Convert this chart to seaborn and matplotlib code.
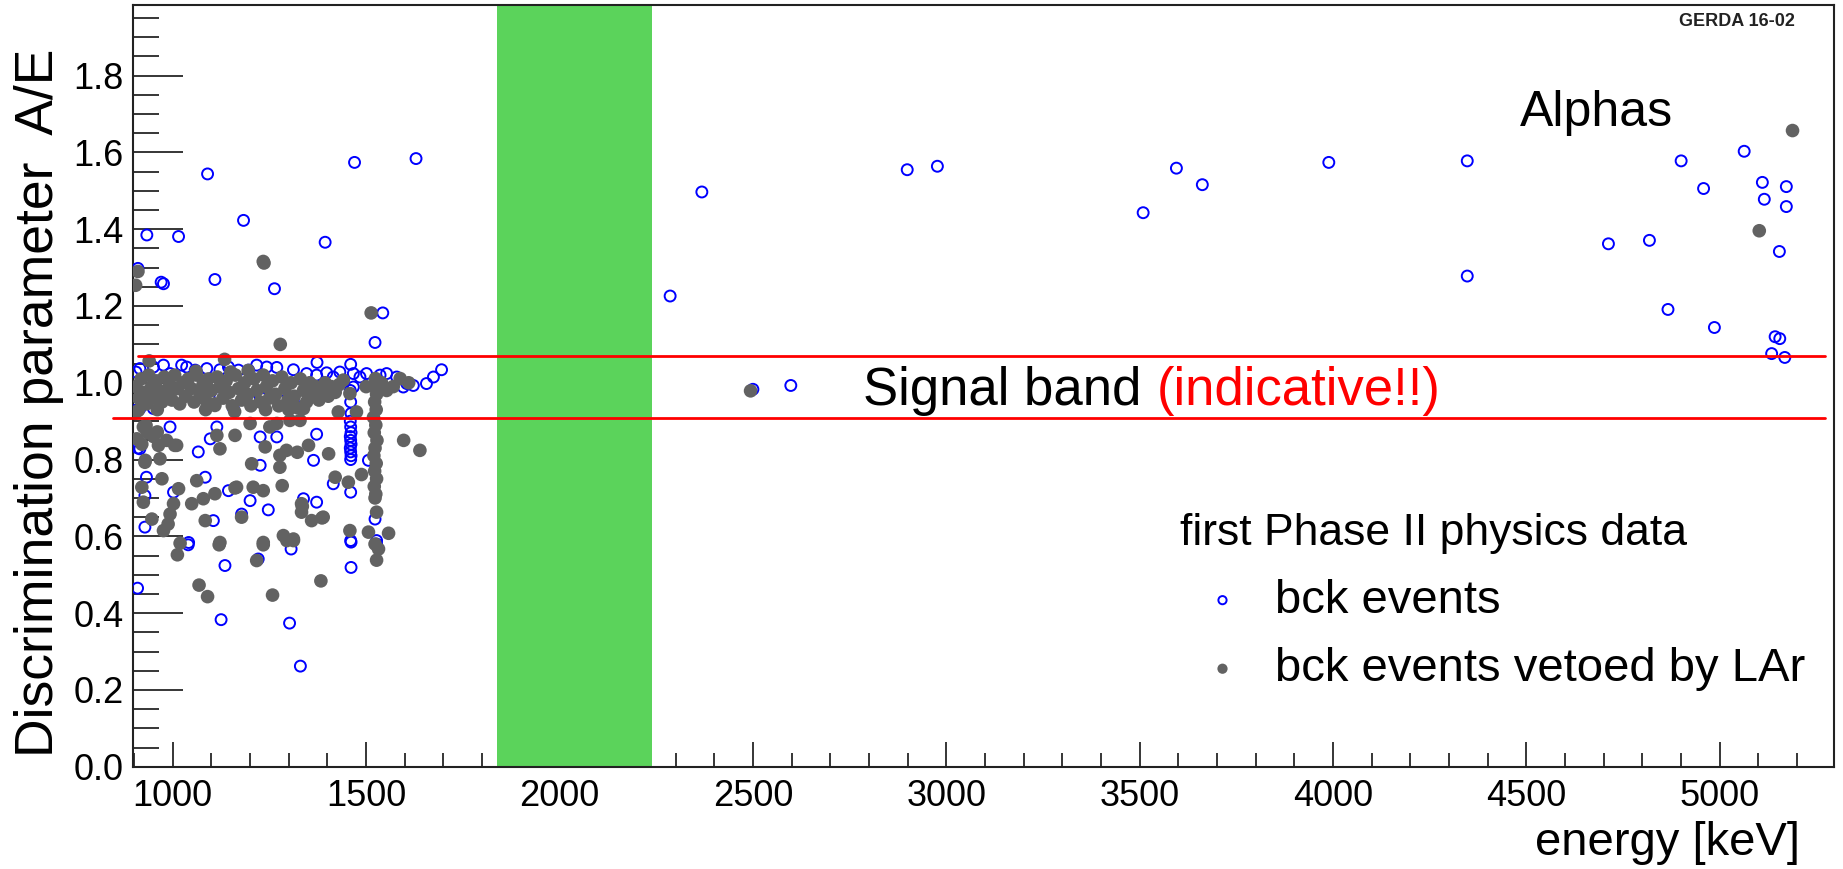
import matplotlib
matplotlib.use("Agg")
import matplotlib.pyplot as plt
from matplotlib.ticker import MultipleLocator
import seaborn as sns

# ---------------- data ----------------
# bck events (open blue circles): energy [keV], A/E
blue_energy = [
    1090, 1470, 1629, 933, 1015, 1183, 1394, 1109, 970, 976, 1263, 1543, 1523, 910, 1373, 1460, 1695,
    905, 915, 950, 976, 993, 1023, 1036, 1058, 1088, 1122, 1144, 1170, 1196, 1217, 1243, 1269, 1312,
    1346, 1372, 1398, 1415, 1432, 1467, 1484, 1501, 1536, 1553, 1579, 1605, 1622, 1656, 1674, 1596,
    907, 946, 1010, 1122, 1157, 1226, 1277, 1312, 915, 950, 1398, 1467,
    1459, 1460, 1461, 1459, 1460, 1461, 1459, 1460, 1461, 1459, 1460, 1461, 1460,
    993, 1097, 1114, 1066, 1226, 1269, 1226, 1364, 1372, 1084, 1002, 928, 932, 1144, 1200, 1247, 1178,
    1338, 1372, 1105, 928, 1041, 1415, 1460, 1460, 1506, 1523, 1527, 903, 915, 910,
    1040, 1135, 909, 1125, 1221, 1306, 1302, 1330, 1461, 1461, 1527,
    2286, 2368, 2899, 2977, 2500, 2598, 3509, 3595, 3662, 3989, 4347, 4347, 4712, 4818, 4900, 4958,
    4866, 4986, 5063, 5110, 5115, 5172, 5172, 5154, 5143, 5155, 5134, 5168,
]
blue_ae = [
    1.544, 1.574, 1.584, 1.385, 1.381, 1.423, 1.366, 1.269, 1.262, 1.258, 1.245, 1.182, 1.105, 1.298, 1.053, 1.048, 1.034,
    1.028, 1.037, 1.041, 1.046, 1.024, 1.046, 1.041, 1.033, 1.037, 1.034, 1.041, 1.033, 1.033, 1.046, 1.041, 1.040, 1.034,
    1.024, 1.020, 1.026, 1.015, 1.028, 1.024, 1.015, 1.024, 1.020, 1.024, 1.015, 0.998, 0.993, 0.998, 1.015, 0.989,
    0.972, 0.963, 0.959, 0.963, 0.933, 0.963, 0.954, 0.950, 0.933, 0.933, 0.989, 0.989,
    0.980, 0.950, 0.920, 0.900, 0.885, 0.870, 0.860, 0.850, 0.840, 0.830, 0.820, 0.810, 0.800,
    0.885, 0.854, 0.885, 0.820, 0.859, 0.859, 0.785, 0.798, 0.866, 0.754, 0.715, 0.706, 0.754, 0.719, 0.693, 0.669, 0.658,
    0.698, 0.689, 0.641, 0.624, 0.584, 0.737, 0.715, 0.589, 0.798, 0.645, 0.589, 0.928, 0.828, 0.830,
    0.578, 0.524, 0.465, 0.383, 0.541, 0.567, 0.374, 0.262, 0.585, 0.519, 0.580,
    1.226, 1.497, 1.555, 1.564, 0.983, 0.993, 1.443, 1.559, 1.516, 1.574, 1.578, 1.278, 1.362, 1.371, 1.578, 1.506,
    1.191, 1.144, 1.603, 1.522, 1.478, 1.511, 1.459, 1.342, 1.120, 1.115, 1.076, 1.066,
]

# bck events vetoed by LAr (filled grey circles)
gray_energy = [
    1234, 1236, 1513, 1278, 939, 1134, 910, 904,
    905, 912, 918, 925, 932, 938, 945, 952, 958, 965, 972, 978, 985, 992, 998, 1005, 1012, 1018,
    1026, 1033, 1040, 1048, 1055, 1062, 1070, 1078, 1085, 1092, 1100, 1108, 1115, 1122, 1130, 1138,
    1146, 1154, 1162, 1170, 1178, 1186, 1194, 1202, 1210, 1218, 1226, 1234, 1242, 1250, 1258, 1266,
    1274, 1282, 1290, 1298, 1306, 1314, 1322, 1330, 1338, 1346, 1354, 1362, 1370, 1378, 1386, 1394,
    1402, 1410, 1420, 1430, 1441, 1458, 1475, 1428, 1553, 1588, 1500, 1540, 1570, 1610, 1085, 1160,
    1240, 960, 1300, 1338, 1109, 1060, 1150, 1195,
    1524, 1520, 1527, 1522, 1526, 1519, 1525, 1521, 1528, 1523, 1520, 1526, 1522, 1527, 1521, 1525,
    1523, 1527, 1523, 1532, 1527,
    902, 907, 924, 935, 920, 950, 963, 984, 1010, 928, 967, 920, 972, 1015, 924, 946, 976, 1002,
    993, 1019, 1012, 1114, 1122, 1161, 1062, 1049, 1079, 1109, 1084, 1122, 1165, 1178, 1204, 1200,
    1208, 1234, 1239, 1251, 1234, 1269, 1283, 1277, 1277, 1294, 1286, 1312, 1303, 1329, 1351, 1333,
    1333, 1359, 1389, 1403, 1420, 1454, 1458, 1488, 1506, 1558, 1597, 1639, 1068, 1090, 1120, 1234,
    1217, 1258, 1295, 1312, 1383, 911, 931, 960, 1005, 929, 988, 1161, 1322, 1335, 1386,
    2494, 5188, 5102,
]
gray_ae = [
    1.316, 1.312, 1.182, 1.100, 1.057, 1.061, 1.290, 1.254,
    0.990, 0.960, 1.010, 0.975, 0.945, 1.020, 0.990, 0.960, 1.005, 0.980, 0.950, 1.015, 0.970, 0.995, 0.955, 1.020, 0.985, 0.945,
    1.000, 0.965, 1.010, 0.985, 0.950, 1.020, 0.975, 0.995, 0.955, 1.010, 0.980, 0.945, 1.015, 0.990, 0.960, 1.005,
    0.975, 0.940, 1.020, 0.985, 0.955, 1.000, 0.970, 0.940, 1.010, 0.980, 0.950, 1.020, 0.990, 0.960, 1.005, 0.970,
    0.940, 1.015, 0.985, 0.955, 1.000, 0.965, 0.935, 1.010, 0.980, 0.950, 1.000, 0.970, 0.990, 0.955, 0.980, 1.000,
    0.965, 0.990, 0.975, 0.995, 1.007, 0.972, 0.924, 0.924, 0.980, 1.011, 0.990, 1.000, 0.990, 1.000, 0.930, 0.925,
    0.930, 0.930, 0.930, 0.933, 0.941, 1.030, 1.028, 1.032,
    1.011, 0.990, 0.970, 0.950, 0.930, 0.910, 0.890, 0.870, 0.850, 0.830, 0.810, 0.790, 0.770, 0.750, 0.730, 0.710,
    0.700, 0.663, 0.580, 0.567, 0.538,
    0.921, 0.854, 0.885, 0.870, 0.840, 0.860, 0.837, 0.850, 0.837, 0.793, 0.802, 0.728, 0.750, 0.724, 0.689, 0.645, 0.615, 0.685,
    0.658, 0.582, 0.552, 0.863, 0.828, 0.863, 0.745, 0.685, 0.698, 0.711, 0.641, 0.584, 0.728, 0.650, 0.789, 0.894,
    0.728, 0.719, 0.833, 0.885, 0.584, 0.894, 0.732, 0.780, 0.811, 0.824, 0.602, 0.593, 0.902, 0.902, 0.837, 0.685,
    0.663, 0.641, 0.650, 0.815, 0.754, 0.741, 0.615, 0.761, 0.611, 0.608, 0.850, 0.824, 0.473, 0.443, 0.578, 0.578,
    0.537, 0.447, 0.589, 0.589, 0.484, 0.928, 0.889, 0.872, 0.837, 0.798, 0.632, 0.726, 0.819, 0.678, 0.648,
    0.979, 1.657, 1.396,
]

x_ticks = [1000, 1500, 2000, 2500, 3000, 3500, 4000, 4500, 5000]
x_tick_labels = ["1000", "1500", "2000", "2500", "3000", "3500", "4000", "4500", "5000"]
y_ticks = [0.0, 0.2, 0.4, 0.6, 0.8, 1.0, 1.2, 1.4, 1.6, 1.8]
y_tick_labels = ["0.0", "0.2", "0.4", "0.6", "0.8", "1.0", "1.2", "1.4", "1.6", "1.8"]

roi_window = [1839, 2239]          # green band (Qbb +- 200 keV)
signal_band = [0.909, 1.069]       # A/E limits (red lines)
band_upper_span = [909, 5273]
band_lower_span = [845, 5273]

# ---------------- style ----------------
sns.set_style("ticks")
plt.rcParams["font.family"] = ["Liberation Sans", "DejaVu Sans"]
plt.rcParams["text.color"] = "black"
plt.rcParams["axes.labelcolor"] = "black"
plt.rcParams["xtick.color"] = "black"
plt.rcParams["ytick.color"] = "black"

fig = plt.figure(figsize=(18.43, 8.69), dpi=100)
ax = fig.add_axes([0.07233, 0.11772, 0.92295, 0.87652])

ax.axvspan(roi_window[0], roi_window[1], color="#5bd35b", lw=0, zorder=1)

sns.scatterplot(x=blue_energy, y=blue_ae, ax=ax, marker="o", s=62,
                facecolor="none", edgecolor="#0000ff", linewidth=1.4,
                label="bck events", legend=False, zorder=3)
sns.scatterplot(x=gray_energy, y=gray_ae, ax=ax, marker="o", s=96,
                color="#626262", edgecolor="none", linewidth=0,
                label="bck events vetoed by LAr", legend=False, zorder=4)

ax.plot(band_upper_span, [signal_band[1]] * 2, color="#ff0000", lw=2.0, zorder=5, clip_on=False)
ax.plot(band_lower_span, [signal_band[0]] * 2, color="#ff0000", lw=2.0, zorder=5, clip_on=False)

ax.set_xlim(898, 5296)
ax.set_ylim(0, 1.984)
ax.set_xticks(x_ticks)
ax.set_xticklabels(x_tick_labels)
ax.set_yticks(y_ticks)
ax.set_yticklabels(y_tick_labels)
ax.xaxis.set_minor_locator(MultipleLocator(100))
ax.yaxis.set_minor_locator(MultipleLocator(0.05))
ax.tick_params(axis="x", which="major", direction="in", length=18, width=1.1,
               labelsize=26, pad=9, top=False, colors="black")
ax.tick_params(axis="x", which="minor", direction="in", length=10, width=1.1, top=False, colors="black")
ax.tick_params(axis="y", which="major", direction="in", length=36, width=1.1,
               labelsize=26, pad=7, right=False, colors="black")
ax.tick_params(axis="y", which="minor", direction="in", length=18.5, width=1.1, right=False, colors="black")
for sp in ax.spines.values():
    sp.set_visible(True)
    sp.set_linewidth(1.5)
    sp.set_color("#222222")

ax.set_xlabel("energy [keV]", fontsize=34, ha="right", color="black")
ax.xaxis.set_label_coords(0.9798, -0.0713)
ax.set_ylabel("Discrimination parameter  A/E", fontsize=38.5, color="black")
ax.yaxis.set_label_coords(-0.0407, 0.478)

ax.text(4483, 1.670, "Alphas", fontsize=36, ha="left", va="baseline", color="black")
t1 = ax.text(2785, 0.941, "Signal band", fontsize=38, ha="left", va="baseline", color="black")
ax.annotate("(indicative!!)", xy=(1, 0), xycoords=t1, xytext=(11, 0),
            textcoords="offset points", fontsize=38, color="#ff0000",
            ha="left", va="bottom")
ax.text(0.9769, 0.9777, "GERDA 16-02", transform=ax.transAxes, ha="right", va="center",
        fontsize=13, fontweight="bold", color="#222222")

handles, labels = ax.get_legend_handles_labels()
leg = ax.legend(handles, labels, title="first Phase II physics data",
                loc="upper left", bbox_to_anchor=(1180 / 1843, 1 - 513 / 869),
                bbox_transform=fig.transFigure, frameon=False, fontsize=34,
                title_fontsize=32, alignment="left", scatterpoints=1,
                markerscale=0.75, handlelength=1.8, handletextpad=0.22,
                borderpad=0, labelspacing=0.52, borderaxespad=0)
for txt in leg.get_texts():
    txt.set_color("black")
leg.get_title().set_color("black")

fig.savefig("out.png", dpi=100)
